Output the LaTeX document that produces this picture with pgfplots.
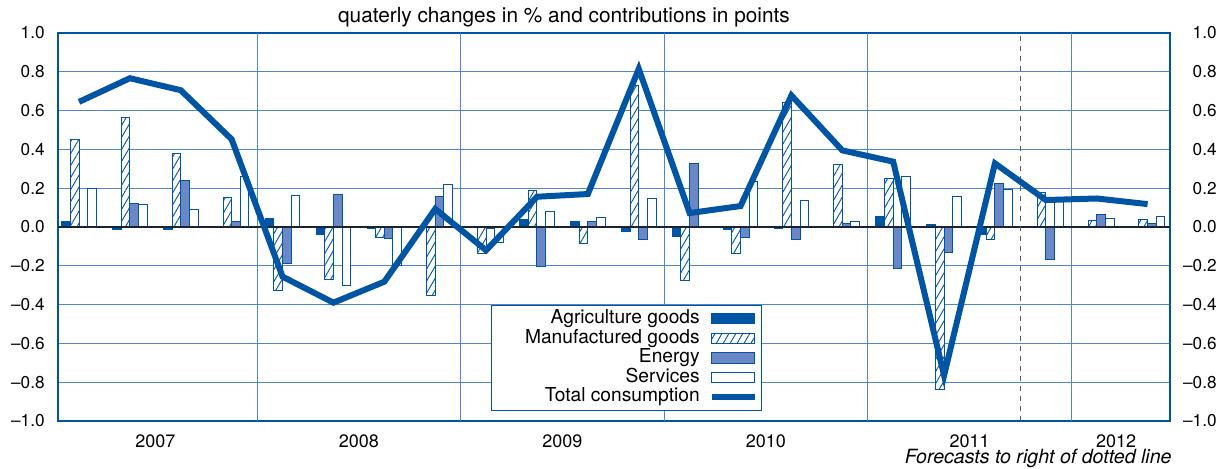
\documentclass[border=0pt]{standalone}
\usepackage{fontspec}
\setmainfont{TeX Gyre Heros}
\usepackage{pgfplots}
\usepackage{pgfplotstable}
\pgfplotsset{compat=1.18}
\usetikzlibrary{patterns.meta}
\definecolor{dblue}{RGB}{0,84,164}
\definecolor{eblue}{RGB}{108,135,198}
\definecolor{gridblue}{RGB}{80,135,200}
\definecolor{zeroline}{RGB}{25,35,50}

\pgfplotstableread{
x agri manuf energy serv total
0  0.030  0.450  0.005  0.200  0.645
1 -0.015  0.565  0.120  0.117  0.767
2 -0.015  0.378  0.239  0.091  0.705
3 -0.005  0.150  0.026  0.260  0.452
4  0.045 -0.328 -0.187  0.161 -0.256
5 -0.041 -0.273  0.168 -0.304 -0.390
6 -0.008 -0.053 -0.057 -0.200 -0.282
7  0.003 -0.354  0.156  0.220  0.093
8 -0.003 -0.135 -0.010 -0.080 -0.120
9  0.040  0.189 -0.205  0.081  0.156
10 0.029 -0.084  0.030  0.048  0.170
11 -0.024 0.732 -0.064  0.148  0.815
12 -0.050 -0.278 0.328 -0.005  0.072
13 -0.015 -0.139 -0.053 0.237  0.108
14 -0.010 0.643 -0.062  0.136  0.678
15 0.005  0.321  0.019  0.027  0.395
16 0.053  0.249 -0.216  0.260  0.337
17 0.014 -0.840 -0.130  0.156 -0.765
18 -0.038 -0.064 0.223  0.194  0.328
19 0.005  0.179 -0.167  0.140  0.139
20 0.003  0.031  0.067  0.045  0.147
21 0.003  0.040  0.016  0.053  0.118
}\data

\pgfplotsset{
  barimg/.style={legend image code/.code={\draw[##1,line width=0.5pt] (0pt,-2.6pt) rectangle (21.5pt,2.6pt);}},
  lineimg/.style={legend image code/.code={\draw[##1] (0pt,0pt) -- (21.5pt,0pt);}},
}

\begin{document}
\begin{tikzpicture}
\useasboundingbox (-29pt,-23.5pt) rectangle (584pt,210.5pt);
\begin{axis}[
  at={(0,0)}, anchor=south west,
  scale only axis, width=556pt, height=194pt,
  xmin=-0.413, xmax=21.44, ymin=-1, ymax=1,
  axis line style={dblue, line width=1pt},
  major tick length=0pt,
  xtick={1.5,5.5,9.5,13.5,17.5,20.38},
  xticklabels={2007,2008,2009,2010,2011,2012},
  xticklabel style={anchor=base, inner sep=0pt, yshift=-13pt, font=\fontsize{9}{10}\selectfont},
  extra x ticks={3.5,7.5,11.5,15.5,19.5},
  extra x tick labels={},
  extra x tick style={grid=major, major grid style={gridblue, line width=0.5pt}},
  ytick={-1,-0.8,-0.6,-0.4,-0.2,0,0.2,0.4,0.6,0.8,1},
  yticklabels={\textendash1.0,\textendash0.8,\textendash0.6,\textendash0.4,\textendash0.2,0.0,0.2,0.4,0.6,0.8,1.0},
  yticklabel style={anchor=east, inner sep=0pt, xshift=-6.5pt, font=\fontsize{8.6}{10}\selectfont},
  ymajorgrids, major grid style={gridblue, line width=0.5pt},
  legend style={at={(0.389,0.299)}, anchor=north west, draw=dblue, line width=0.5pt, fill=white,
     font=\fontsize{9.6}{9.75}\selectfont, row sep=0.6pt, column sep=3pt, inner sep=2pt,
     nodes={inner xsep=1.5pt, inner ysep=0pt, text height=7pt, text depth=2.2pt}},
  legend plot pos=right,
  legend cell align=right,
  clip mode=individual,
]
\addplot[ybar, bar width=0.17, bar shift=-0.255, fill=dblue, draw=dblue, line width=0.5pt, barimg] table[x=x,y=agri]{\data};
\addlegendentry{Agriculture goods}
\addplot[ybar, bar width=0.17, bar shift=-0.085, draw=dblue, line width=0.5pt, fill=white,
   postaction={pattern={Lines[angle=60,distance=3pt,line width=0.45pt]}, pattern color=dblue}, barimg] table[x=x,y=manuf]{\data};
\addlegendentry{\hspace*{13.5pt}Manufactured goods}
\addplot[ybar, bar width=0.17, bar shift=0.085, fill=eblue, draw=dblue, line width=0.5pt, barimg] table[x=x,y=energy]{\data};
\addlegendentry{Energy}
\addplot[ybar, bar width=0.17, bar shift=0.255, fill=white, draw=dblue, line width=0.5pt, barimg] table[x=x,y=serv]{\data};
\addlegendentry{Services}
\draw[zeroline, line width=1.2pt] (axis cs:-0.413,0) -- (axis cs:21.44,0);
\draw[black!65, line width=0.7pt, dash pattern=on 2.5pt off 2.5pt] (axis cs:18.5,-1) -- (axis cs:18.5,1);
\addplot[dblue, line width=3pt, line join=miter, miter limit=10, mark=none, lineimg] table[x=x,y=total]{\data};
\addlegendentry{Total consumption}
\node[anchor=base, font=\fontsize{10.4}{11}\selectfont] at (rel axis cs:0.455,1) [yshift=5.5pt] {quaterly changes in \% and contributions in points};
\node[anchor=base east, inner sep=0pt, font=\fontsize{9.8}{10}\selectfont\itshape] at (rel axis cs:1,0) [yshift=-21pt, xshift=1pt] {Forecasts to right of dotted line};
\end{axis}
\begin{axis}[
  at={(0,0)}, anchor=south west,
  scale only axis, width=556pt, height=194pt,
  xmin=-0.413, xmax=21.44, ymin=-1, ymax=1,
  axis y line*=right, axis x line=none,
  y axis line style={draw=none},
  major tick length=0pt,
  ytick={-1,-0.8,-0.6,-0.4,-0.2,0,0.2,0.4,0.6,0.8,1},
  yticklabels={\textendash1.0,\textendash0.8,\textendash0.6,\textendash0.4,\textendash0.2,0.0,0.2,0.4,0.6,0.8,1.0},
  yticklabel style={anchor=east, inner sep=0pt, xshift=23.5pt, font=\fontsize{8.6}{10}\selectfont},
]
\end{axis}
\end{tikzpicture}
\end{document}
